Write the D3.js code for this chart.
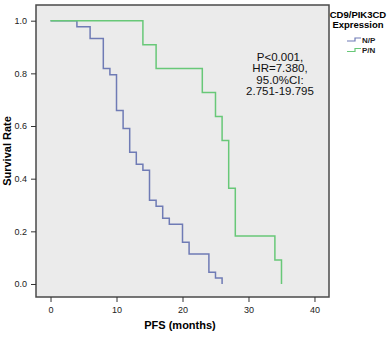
<!DOCTYPE html>
<html>
<head>
<meta charset="utf-8">
<script src="https://cdn.jsdelivr.net/npm/d3@7"></script>
<style>
body{margin:0;background:#fff;}
svg{display:block;}
text{font-family:"Liberation Sans",Arial,sans-serif;}
</style>
</head>
<body>
<svg width="391" height="337"></svg>
<script>
// Kaplan-Meier steps
var npTimes = [0,4,6,8,9,10,11,12,13,14,15,16,17,18,20,21,24,25,26];
var npSurv = [1,0.977,0.932,0.818,0.795,0.659,0.591,0.5,0.455,0.432,0.318,0.295,0.25,0.227,0.159,0.114,0.045,0.023,0];
var pnTimes = [0,14,16,23,25,26,27,28,34,35];
var pnSurv = [1,0.909,0.818,0.727,0.636,0.545,0.364,0.182,0.091,0];
var xTicks = [0,10,20,30,40];
var yTicks = [0,0.2,0.4,0.6,0.8,1.0];
var groups = ['N/P','P/N'];
var colors = ['#6f7bb5','#68c878'];
var statLines = ['P<0.001,','HR=7.380,','95.0%CI:','2.751-19.795'];

var svg = d3.select('svg');
var x = d3.scaleLinear().domain([-2.2,42.2]).range([36,329]);
var y = d3.scaleLinear().domain([-0.0494,1.0596]).range([297,5]);

svg.append('rect')
	.attr('x',36).attr('y',5)
	.attr('width',293).attr('height',292)
	.attr('fill','#ebebeb')
	.attr('stroke','#4a4a4a').attr('stroke-width',1.5);

var xAxis = svg.append('g').attr('transform','translate(0,297)')
	.call(d3.axisBottom(x).tickValues(xTicks).tickSize(5).tickFormat(d3.format('d')));
var yAxis = svg.append('g').attr('transform','translate(36,0)')
	.call(d3.axisLeft(y).tickValues(yTicks).tickSize(5).tickFormat(d3.format('.1f')));
[xAxis,yAxis].forEach(a => {
	a.select('.domain').remove();
	a.selectAll('line').attr('stroke','#333');
	a.selectAll('text').attr('fill','#222').style('font-size','9px');
});
xAxis.selectAll('text').attr('dy','0.9em');
yAxis.selectAll('text').attr('dx','-1');

var line = d3.line().curve(d3.curveStepAfter).x(d => x(d[0])).y(d => y(d[1]));
var series = [d3.zip(npTimes,npSurv), d3.zip(pnTimes,pnSurv)];
svg.selectAll('path.km').data(series).enter()
	.append('path').attr('class','km')
	.attr('d',line)
	.attr('fill','none')
	.attr('stroke',(d,i) => colors[i])
	.attr('stroke-width',1.5);

// labels
svg.append('text').attr('x',180).attr('y',329)
	.attr('text-anchor','middle').attr('font-weight','bold').style('font-size','11px')
	.text('PFS (months)');
svg.append('text').attr('transform','translate(11,151) rotate(-90)')
	.attr('text-anchor','middle').attr('font-weight','bold').style('font-size','11px')
	.text('Survival Rate');

svg.append('g').selectAll('text').data(statLines).enter()
	.append('text')
	.attr('x',280).attr('y',(d,i) => 61 + i*11.3)
	.attr('text-anchor','middle').attr('fill','#111').style('font-size','11.5px')
	.text(d => d);

// legend
var lg = svg.append('g');
lg.append('text').attr('x',358).attr('y',18).attr('text-anchor','middle')
	.attr('font-weight','bold').style('font-size','9.5px').text('CD9/PIK3CD');
lg.append('text').attr('x',358).attr('y',28).attr('text-anchor','middle')
	.attr('font-weight','bold').style('font-size','9.5px').text('Expression');
var item = lg.selectAll('g.it').data(groups).enter().append('g')
	.attr('transform',(d,i) => `translate(347,${39.5 + i*10.5})`);
item.append('path')
	.attr('d','M0,1.5H8V-1.5H14')
	.attr('fill','none').attr('stroke-width',1.2)
	.attr('stroke',(d,i) => colors[i]);
item.append('text').attr('x',15).attr('y',3)
	.attr('font-weight','bold').style('font-size','8px').attr('fill','#222')
	.text(d => d);
</script>
</body>
</html>
